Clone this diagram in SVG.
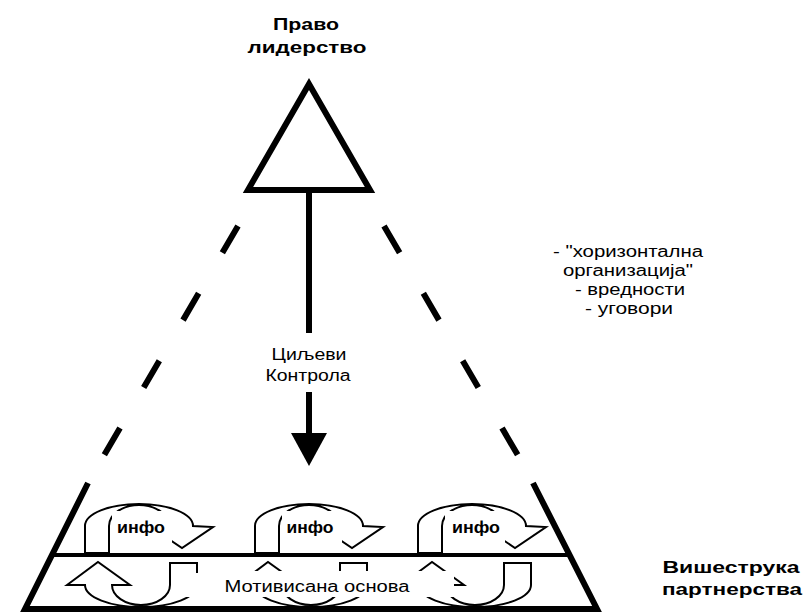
<svg xmlns="http://www.w3.org/2000/svg" width="803" height="613" viewBox="0 0 803 613">
<style>
.t{font-family:"Liberation Sans",Arial,sans-serif;fill:#000;text-anchor:middle}
.b{font-weight:bold}
.u{fill:#fff;stroke:#000;stroke-width:2;stroke-linejoin:miter}
.bg{fill:#fff;stroke:none}
.thick{fill:none;stroke:#000;stroke-width:6}
</style>
<defs>
<path id="utop" d="M0,553 L0,526 A54,22 0 0 1 108,526 L128,527 L97,548 L66,527 L84,526 A30,21 0 0 0 24,526 L24,553 Z"/>
<path id="ubot" d="M-31,585 L0,562 L32,585 L14,585 A29,20 0 0 0 72,585 L72,563 L99,563 L99,585 A56,22 0 0 1 -13,585 Z"/>
</defs>
<rect width="803" height="613" fill="#fff"/>

<g id="leader">
<polygon class="thick" points="309,84 248,190 370,190"/>
<text class="t b" x="306" y="30" font-size="17" textLength="66" lengthAdjust="spacingAndGlyphs">Право</text>
<text class="t b" x="307" y="53" font-size="17" textLength="119" lengthAdjust="spacingAndGlyphs">лидерство</text>
</g>

<g id="pyramid">
<line class="thick" x1="238" y1="226" x2="92" y2="476" stroke-dasharray="31 47"/>
<line class="thick" x1="384" y1="226" x2="530" y2="476" stroke-dasharray="31 47"/>
<path class="thick" d="M88,483 L25,609 L597,609 L533,483"/>
<line x1="52" y1="555" x2="569" y2="555" stroke="#000" stroke-width="4"/>
</g>

<g id="connectors">
<line x1="309" y1="193" x2="309" y2="437" stroke="#000" stroke-width="6"/>
<polygon points="291,433 327,433 309,466" fill="#000"/>
<rect class="bg" x="262" y="333" width="94" height="59"/>
<text class="t" x="309" y="360" font-size="16" textLength="75" lengthAdjust="spacingAndGlyphs">Циљеви</text>
<text class="t" x="308" y="381" font-size="16" textLength="85" lengthAdjust="spacingAndGlyphs">Контрола</text>
</g>

<g id="notes">
<text class="t" x="628" y="257" font-size="16" textLength="150" lengthAdjust="spacingAndGlyphs">- "хоризонтална</text>
<text class="t" x="628" y="276" font-size="16" textLength="130" lengthAdjust="spacingAndGlyphs">организација"</text>
<text class="t" x="630" y="295" font-size="16" textLength="110" lengthAdjust="spacingAndGlyphs">- вредности</text>
<text class="t" x="629" y="314" font-size="16" textLength="88" lengthAdjust="spacingAndGlyphs">- уговори</text>
</g>

<g id="info1">
<use href="#utop" class="u" transform="translate(85,0)"/>
<rect class="bg" x="112" y="511" width="60" height="35"/>
<text class="t b" x="141" y="533" font-size="16" textLength="48" lengthAdjust="spacingAndGlyphs">инфо</text>
</g>
<g id="info2">
<use href="#utop" class="u" transform="translate(255,0)"/>
<rect class="bg" x="282" y="511" width="60" height="35"/>
<text class="t b" x="310" y="533" font-size="16" textLength="47" lengthAdjust="spacingAndGlyphs">инфо</text>
</g>
<g id="info3">
<use href="#utop" class="u" transform="translate(418,0)"/>
<rect class="bg" x="445" y="511" width="60" height="35"/>
<text class="t b" x="476" y="533" font-size="16" textLength="48" lengthAdjust="spacingAndGlyphs">инфо</text>
</g>

<g id="base1">
<use href="#ubot" class="u" transform="translate(98,0)"/>
<rect class="bg" x="176" y="573" width="25" height="24"/>
</g>
<g id="base2">
<use href="#ubot" class="u" transform="translate(268,0)"/>
</g>
<g id="base3">
<use href="#ubot" class="u" transform="translate(432,0)"/>
</g>
<g id="baseLabel">
<rect class="bg" x="221" y="571" width="233" height="26"/>
<text class="t" x="317" y="592" font-size="16" textLength="185" lengthAdjust="spacingAndGlyphs">Мотивисана основа</text>
</g>

<g id="partners">
<text class="t b" x="731" y="573" font-size="16" textLength="137" lengthAdjust="spacingAndGlyphs">Вишеструка</text>
<text class="t b" x="732" y="595" font-size="16" textLength="140" lengthAdjust="spacingAndGlyphs">партнерства</text>
</g>
</svg>
